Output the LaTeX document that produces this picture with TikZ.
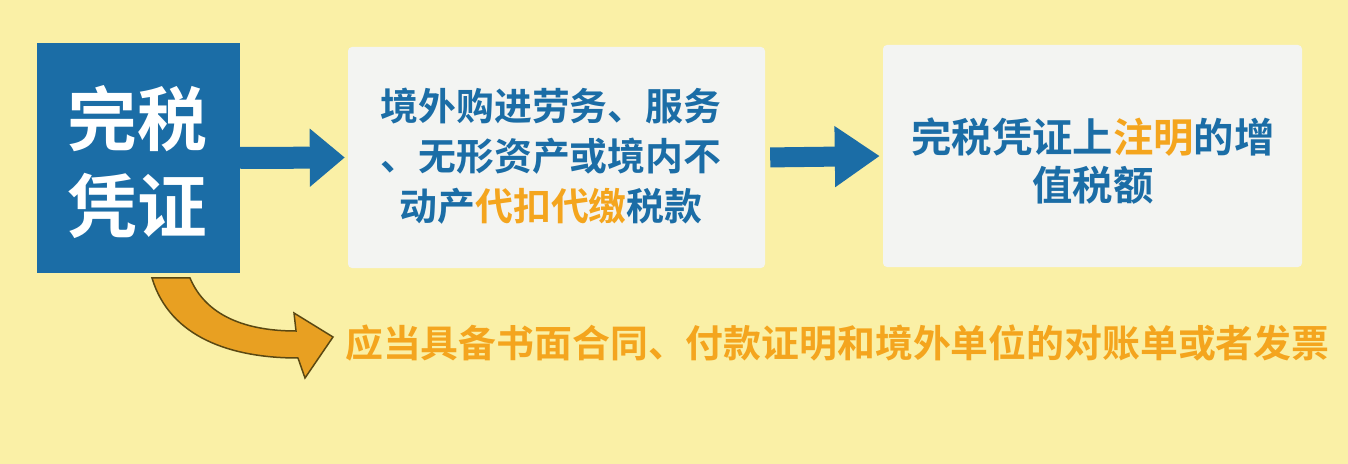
\documentclass[tikz,border=0pt]{standalone}
\usepackage{fontspec}
\newfontfamily\cjk{Noto Sans CJK SC Bold}
\usetikzlibrary{arrows.meta}
\definecolor{bgY}{HTML}{FAF0A6}
\definecolor{boxW}{HTML}{F3F4F2}
\definecolor{tblue}{HTML}{1B6DA6}
\definecolor{torange}{HTML}{F4A51E}
\definecolor{aorange}{HTML}{E8A022}
\definecolor{aline}{HTML}{5A4812}
\tikzset{
  whitebox/.style={fill=boxW, rounded corners=4bp, inner sep=0pt, align=center, text=tblue},
  bluearrow/.style={draw=tblue, line width=#1},
}
\newcommand{\hl}[1]{\textcolor{torange}{#1}}
\begin{document}
\begin{tikzpicture}[x=1bp,y=-1bp]
\fill[bgY] (0,0) rectangle (1348,464);
\useasboundingbox (0,0) rectangle (1348,464);
\node[fill=tblue, minimum width=203bp, minimum height=230bp, inner sep=0pt, align=center, text=white,
  font=\cjk\fontsize{70}{88}\selectfont] (b1) at (138.5,158) {};
\node[text=white, align=center, font=\cjk\fontsize{70}{88}\selectfont] (t1) at (137,162) {完税\\凭证};
\node[whitebox, minimum width=417bp, minimum height=221bp] (b2) at (556.5,157.5) {};
\node[text=tblue, align=center, font=\cjk\fontsize{38}{50}\selectfont] (t2) at (551,156) {境外购进劳务、服务\\、无形资产或境内不\\动产\hl{代扣代缴}税款};
\node[whitebox, minimum width=419bp, minimum height=222bp] (b3) at (1092.5,156) {};
\node[text=tblue, align=center, font=\cjk\fontsize{40.5}{48}\selectfont] (t3) at (1093,161) {完税凭证上\hl{注明}的增\\值税额};
\node[anchor=west, text=torange, inner sep=0pt, font=\cjk\fontsize{38}{40}\selectfont] (t4) at (345,343) {应当具备书面合同、付款证明和境外单位的对账单或者发票};
\draw[bluearrow=22bp, -{Triangle[length=35bp,width=56bp]}, shorten >=3bp] (b1.east) -- (b2.west);
\draw[bluearrow=20bp, -{Triangle[length=45bp,width=58bp]}, shorten <=5bp, shorten >=3bp] (b2.east) -- (b3.west);
\fill[aorange, draw=aline, line width=1.5bp, line join=miter]
  (152,278) .. controls (170,338) and (232,358) .. (298,358) -- (305,378) -- (333,337) -- (294,313) -- (296,331) .. controls (246,331) and (206,316) .. (190,278) -- cycle;
\end{tikzpicture}
\end{document}
